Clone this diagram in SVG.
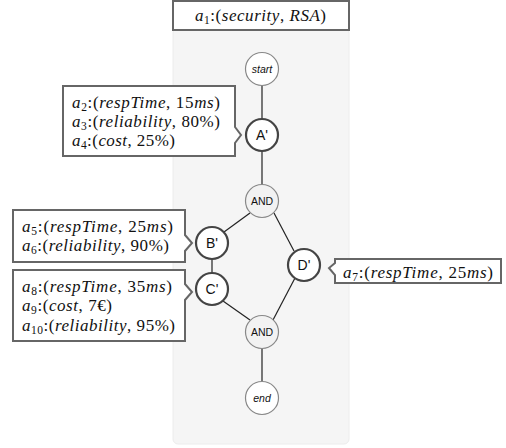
<svg xmlns="http://www.w3.org/2000/svg" width="506" height="448" viewBox="0 0 506 448">
<style>
.panel{fill:#f5f5f5;stroke:#ececec;stroke-width:1}
.box{fill:#fff;stroke:#666;stroke-width:2}
.edge{stroke:#222;stroke-width:1.2;fill:none}
.ev{fill:#fff;stroke:#888;stroke-width:1.2}
.gw{fill:#f2f2f2;stroke:#888;stroke-width:1.2}
.act{fill:#fff;stroke:#444;stroke-width:2.2}
.m{font-family:"Liberation Serif","DejaVu Serif",serif;font-size:17px;fill:#111}
.i{font-style:italic}
.s{font-size:11.5px}
.lbl{font-family:"Liberation Sans",Arial,sans-serif;fill:#111;text-anchor:middle}
</style>
<rect class="panel" x="173" y="28" width="176" height="416" rx="5"/>
<g id="top">
<rect class="box" x="173" y="1" width="176" height="29"/>
<text class="m" x="195" y="21" textLength="131"><tspan class="i">a</tspan><tspan class="s" dy="3">1</tspan><tspan dy="-3">:(</tspan><tspan class="i">security</tspan>, <tspan class="i">RSA</tspan>)</text>
</g>
<g id="connectors">
<line class="edge" x1="262" y1="85" x2="262" y2="119"/>
<line class="edge" x1="262" y1="151" x2="262" y2="185"/>
<line class="edge" x1="250" y1="213" x2="224" y2="232"/>
<line class="edge" x1="274" y1="213" x2="294" y2="251"/>
<line class="edge" x1="212" y1="259" x2="212" y2="273"/>
<line class="edge" x1="223" y1="301" x2="250" y2="320"/>
<line class="edge" x1="295" y1="278" x2="273" y2="320"/>
<line class="edge" x1="262" y1="348" x2="262" y2="381"/>
</g>
<g id="start">
<circle class="ev" cx="262" cy="69" r="16.5"/>
<text class="lbl" x="262" y="73" font-size="10.5" font-style="italic">start</text>
</g>
<g id="A">
<circle class="act" cx="262" cy="135" r="16"/>
<text class="lbl" x="262" y="140" font-size="14">A'</text>
</g>
<g id="and1">
<circle class="gw" cx="262" cy="201" r="16.5"/>
<text class="lbl" x="262" y="205" font-size="10.5">AND</text>
</g>
<g id="B">
<circle class="act" cx="212" cy="243" r="16"/>
<text class="lbl" x="212" y="248" font-size="14">B'</text>
</g>
<g id="C">
<circle class="act" cx="212" cy="289" r="16"/>
<text class="lbl" x="212" y="294" font-size="14">C'</text>
</g>
<g id="D">
<circle class="act" cx="304" cy="265" r="16"/>
<text class="lbl" x="304" y="270" font-size="14">D'</text>
</g>
<g id="and2">
<circle class="gw" cx="262" cy="332" r="16.5"/>
<text class="lbl" x="262" y="336" font-size="10.5">AND</text>
</g>
<g id="end">
<circle class="ev" cx="262" cy="398" r="16.5"/>
<text class="lbl" x="262" y="402" font-size="10.5" font-style="italic">end</text>
</g>
<g id="calloutA">
<path class="box" d="M63,86 H235 V127 L241,135 L235,143 V156 H63 Z"/>
<text class="m" x="72" y="108" textLength="148"><tspan class="i">a</tspan><tspan class="s" dy="3">2</tspan><tspan dy="-3">:(</tspan><tspan class="i">respTime</tspan>, 15<tspan class="i">ms</tspan>)</text>
<text class="m" x="72" y="127" textLength="148"><tspan class="i">a</tspan><tspan class="s" dy="3">3</tspan><tspan dy="-3">:(</tspan><tspan class="i">reliability</tspan>, 80%)</text>
<text class="m" x="72" y="146" textLength="103"><tspan class="i">a</tspan><tspan class="s" dy="3">4</tspan><tspan dy="-3">:(</tspan><tspan class="i">cost</tspan>, 25%)</text>
</g>
<g id="calloutB">
<path class="box" d="M13,210 H185 V235 L192,243 L185,251 V262 H13 Z"/>
<text class="m" x="22" y="232" textLength="151"><tspan class="i">a</tspan><tspan class="s" dy="3">5</tspan><tspan dy="-3">:(</tspan><tspan class="i">respTime</tspan>, 25<tspan class="i">ms</tspan>)</text>
<text class="m" x="22" y="251" textLength="147"><tspan class="i">a</tspan><tspan class="s" dy="3">6</tspan><tspan dy="-3">:(</tspan><tspan class="i">reliability</tspan>, 90%)</text>
</g>
<g id="calloutC">
<path class="box" d="M13,270 H185 V284 L192,292 L185,300 V341 H13 Z"/>
<text class="m" x="22" y="292" textLength="150"><tspan class="i">a</tspan><tspan class="s" dy="3">8</tspan><tspan dy="-3">:(</tspan><tspan class="i">respTime</tspan>, 35<tspan class="i">ms</tspan>)</text>
<text class="m" x="22" y="311" textLength="90"><tspan class="i">a</tspan><tspan class="s" dy="3">9</tspan><tspan dy="-3">:(</tspan><tspan class="i">cost</tspan>, 7€)</text>
<text class="m" x="22" y="331" textLength="153"><tspan class="i">a</tspan><tspan class="s" dy="3">10</tspan><tspan dy="-3">:(</tspan><tspan class="i">reliability</tspan>, 95%)</text>
</g>
<g id="calloutD">
<path class="box" d="M335,259 H501 V283 H335 V275 L329,268 L335,263 Z"/>
<text class="m" x="343" y="278" textLength="150"><tspan class="i">a</tspan><tspan class="s" dy="3">7</tspan><tspan dy="-3">:(</tspan><tspan class="i">respTime</tspan>, 25<tspan class="i">ms</tspan>)</text>
</g>
</svg>
